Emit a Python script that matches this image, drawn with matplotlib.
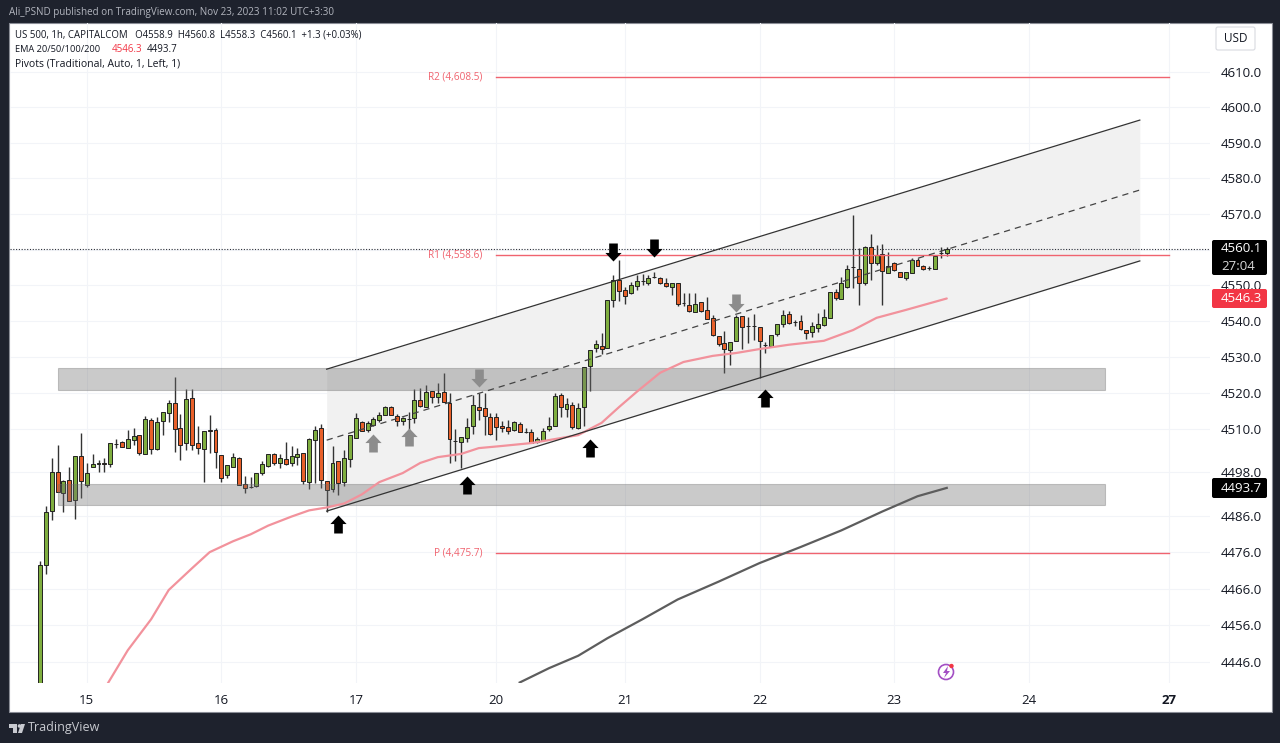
import numpy as np
import matplotlib
matplotlib.use("Agg")
import matplotlib.pyplot as plt
from matplotlib.markers import MarkerStyle
from matplotlib.patches import Circle, FancyBboxPatch, Polygon, Rectangle
from matplotlib.path import Path
from matplotlib.ticker import FixedLocator, NullLocator

plt.rcParams['font.family'] = ['Open Sans', 'DejaVu Sans']

# hourly candles, bar 0 is the first one on the left
opens = [4435, 4472.4, 4487.4, 4498.2, 4492.4, 4495.8, 4490.4, 4502.5, 4494.4, 4499.6,
         4500.4, 4500.5, 4500.3, 4505.8, 4506.3, 4504.6, 4506.9, 4508.2, 4503.2, 4512.4,
         4504.4, 4512.1, 4514.4, 4517.1, 4510.4, 4506.2, 4518.6, 4506, 4504.4, 4509.6,
         4509.6, 4502.7, 4497.4, 4499.6, 4502.1, 4494.7, 4494, 4494.2, 4497.7, 4499.7,
         4503.2, 4500.7, 4501.8, 4500.7, 4502.3, 4503.4, 4495.4, 4507, 4510.2, 4495.6,
         4493.5, 4501.1, 4495.4, 4501.6, 4507.6, 4511.8, 4509.7, 4511.1, 4512.5, 4514,
         4516.2, 4513.7, 4512.1, 4512.7, 4513, 4518.1, 4516.2, 4520.4, 4519, 4520.2,
         4517.3, 4506.8, 4506.5, 4507.6, 4510.8, 4516.2, 4515.8, 4513.4, 4513.4, 4510.7,
         4510.5, 4509.7, 4511.3, 4509.2, 4509.3, 4506.5, 4507, 4509.9, 4510.9, 4519.4,
         4515.6, 4516.7, 4510.4, 4516.2, 4527.5, 4532.4, 4533.1, 4532.4, 4546, 4551.4,
         4548.6, 4547.7, 4549.9, 4551.1, 4550.7, 4552.2, 4552.1, 4550.5, 4549.5, 4550.5,
         4545.1, 4544.5, 4542.6, 4545.3, 4543, 4540.9, 4535.8, 4534, 4531.9, 4534.5,
         4541.3, 4538.5, 4538.6, 4538.4, 4533.3, 4533, 4536.4, 4539.1, 4542.1, 4539.7,
         4540.1, 4537.5, 4536.9, 4538.2, 4538.9, 4540.8, 4548, 4546.2, 4549.6, 4555.1,
         4554.5, 4550.7, 4560.7, 4556.3, 4558.7, 4553.5, 4556.1, 4553.6, 4552, 4553.5,
         4557.1, 4555.4, 4554.8, 4554.6, 4559, 4558.9]
highs = [4473.5, 4488.8, 4502.1, 4505.6, 4495.8, 4499.5, 4502.6, 4509, 4500.6, 4503.2,
         4501.4, 4501.9, 4506.1, 4507.1, 4506.7, 4509.7, 4510.4, 4508.4, 4513.6, 4513,
         4513.3, 4514.8, 4517.9, 4524.4, 4514.1, 4521, 4521.2, 4510.9, 4509.4, 4513.9,
         4510.2, 4502.7, 4499.9, 4503.4, 4502.2, 4497, 4496.8, 4497.7, 4501.2, 4503.2,
         4503.4, 4503.2, 4506.5, 4505.3, 4504.6, 4503.4, 4507.6, 4510.8, 4511.4, 4495.7,
         4505.3, 4501.1, 4504.2, 4508.3, 4514.4, 4512.1, 4512.1, 4513.3, 4514.6, 4516.4,
         4516.4, 4514.1, 4513.4, 4514.8, 4521, 4521.5, 4522.3, 4520.4, 4522.7, 4525.5,
         4519.9, 4509.9, 4507.9, 4513, 4519.5, 4519.9, 4520.1, 4514.4, 4514.4, 4512.1,
         4512.5, 4512.1, 4511.8, 4510.4, 4509.9, 4507.9, 4510.2, 4513.3, 4519.9, 4520.1,
         4518.5, 4517.4, 4517.2, 4527.2, 4531.9, 4534.7, 4536.6, 4545.8, 4552.8, 4557.1,
         4549.5, 4550.9, 4552.8, 4553.1, 4552.8, 4553.7, 4552.3, 4551.9, 4550.5, 4550.5,
         4547.9, 4547.9, 4547.9, 4545.3, 4546.8, 4541.7, 4535.8, 4537.3, 4534.3, 4541.7,
         4541.3, 4541, 4541.9, 4538.4, 4534.2, 4536.1, 4539.1, 4543.1, 4542.8, 4540.3,
         4541.7, 4537.5, 4539.6, 4542.2, 4543.3, 4548.2, 4548.9, 4552.4, 4555.6, 4569.6,
         4560.5, 4561, 4564.3, 4561.3, 4561.5, 4559.4, 4556.5, 4553.6, 4553.7, 4557.6,
         4557.6, 4555.6, 4555.4, 4558.2, 4560.6, 4560.8]
lows = [4430, 4470, 4484.9, 4492.6, 4487, 4490.2, 4485.2, 4491, 4494, 4499.4,
        4498.2, 4498.2, 4499.5, 4504.8, 4504.9, 4504.6, 4505.6, 4502.8, 4503.1, 4503.2,
        4504.2, 4508.4, 4511.8, 4503.7, 4501.4, 4504.2, 4504.2, 4503, 4495.4, 4503.4,
        4499.1, 4495.4, 4496.5, 4499.4, 4494.4, 4492.3, 4493.7, 4494, 4497.2, 4499.5,
        4500, 4499.1, 4500, 4499.7, 4500, 4494.7, 4493.5, 4495.1, 4493.8, 4487,
        4492.6, 4491.8, 4494.2, 4499.5, 4507.4, 4509.4, 4509.3, 4510.7, 4511.8, 4513.9,
        4513.9, 4510.7, 4511.1, 4508.8, 4511.6, 4516.2, 4516.2, 4517.1, 4517.3, 4517.6,
        4500.5, 4501.2, 4499.1, 4506.5, 4508.6, 4512.5, 4508.3, 4508.3, 4507, 4509.3,
        4508.6, 4509.4, 4509.3, 4509, 4506.2, 4506.2, 4506.8, 4509.5, 4510.9, 4513.4,
        4513.4, 4509.9, 4509.9, 4510.8, 4520.4, 4531.5, 4530.7, 4532.4, 4543.8, 4545.6,
        4544.7, 4547.5, 4548.6, 4550, 4550, 4551.9, 4550.3, 4549.5, 4547.2, 4544.2,
        4544.2, 4542.6, 4542.6, 4542.6, 4540.5, 4535.8, 4533, 4525.4, 4527.8, 4534.5,
        4532.1, 4533.8, 4534.7, 4524.2, 4531, 4532.9, 4535.8, 4538.4, 4539.3, 4538.7,
        4537.4, 4535, 4535.5, 4536.9, 4538.7, 4540.8, 4545.9, 4546.2, 4549.1, 4549.1,
        4544.5, 4550.1, 4551.5, 4555.6, 4544.5, 4553.3, 4554, 4552.2, 4551.5, 4553.3,
        4555.4, 4554.4, 4554.4, 4554.6, 4557.6, 4558.3]
closes = [4472.4, 4487.1, 4498, 4492.6, 4495.6, 4490.2, 4502.5, 4495.5, 4497.8, 4500.2,
          4500.5, 4500.4, 4506, 4505.9, 4505.1, 4507.2, 4508, 4503.4, 4512.7, 4504.5,
          4512, 4514.6, 4517.2, 4510, 4505.7, 4518.4, 4505.7, 4504.6, 4509.4, 4509.5,
          4503.7, 4496.3, 4499.9, 4502.3, 4494.4, 4493.7, 4493.9, 4497.7, 4500.2, 4503.2,
          4500.7, 4502.1, 4500.3, 4502.5, 4503.2, 4495.6, 4507.3, 4509.6, 4496, 4493,
          4500.6, 4495.1, 4501.9, 4508.2, 4513, 4509.5, 4511.6, 4512.8, 4513.9, 4516.1,
          4513.9, 4512.1, 4513, 4512.7, 4518, 4516.5, 4520.3, 4519, 4519.9, 4517.6,
          4507.1, 4506.7, 4507.9, 4510.5, 4516.6, 4515.3, 4513.7, 4508.6, 4510.5, 4510.3,
          4509.5, 4511.8, 4509.3, 4509.2, 4506.2, 4507.1, 4509.5, 4510.8, 4519.2, 4516.2,
          4517, 4510.5, 4515.8, 4527.2, 4531.9, 4533.5, 4532.1, 4545.8, 4551.4, 4548.4,
          4547.1, 4550.2, 4551.3, 4551.1, 4551.9, 4552.2, 4550.5, 4549.7, 4550.5, 4544.7,
          4545.1, 4542.9, 4544.7, 4542.9, 4540.7, 4536.1, 4533.6, 4532.1, 4534.3, 4541.1,
          4538.4, 4538.5, 4538.6, 4534.5, 4533.3, 4536.1, 4539.1, 4541.8, 4539.5, 4539.7,
          4537.7, 4536.8, 4538.5, 4539.1, 4541.1, 4548.2, 4546.4, 4550.5, 4554.6, 4555.2,
          4550.5, 4560.6, 4556.1, 4558.5, 4554, 4555.4, 4554.2, 4552.3, 4553.7, 4557.2,
          4555.4, 4554.6, 4554.9, 4558.2, 4559.1, 4560.1]

ema50_bars = [11, 15, 19, 22, 26, 29, 33, 36, 39, 43, 46, 49, 52, 55, 58, 62, 65, 68, 72,
              75, 79, 84, 92, 96, 99, 102, 106, 110, 115, 119, 123, 128, 134, 139, 143, 148, 155]
ema50_vals = [4438.5, 4449.1, 4457.6, 4465.6, 4471.6, 4476, 4479, 4480.9, 4483.3, 4485.8,
              4487.5, 4488.3, 4489.4, 4491.9, 4495.3, 4497.8, 4500.6, 4502.2, 4503.1,
              4504.7, 4505.3, 4506.1, 4508.3, 4511.7, 4516.1, 4520.3, 4525.6, 4528.6,
              4530.3, 4531.1, 4532.2, 4533.4, 4534.5, 4537.5, 4540.9, 4543.1, 4546.3]
ema200_bars = [82, 87, 92, 97, 103, 109, 116, 123, 130, 137, 144, 150, 155]
ema200_vals = [4440.3, 4444.2, 4447.6, 4452.4, 4457.6, 4463, 4467.9, 4473, 4477.4, 4482,
               4487.2, 4491.4, 4493.7]

# drawn objects
channel_bars = [49, 188]
channel_upper = [4526.6, 4596.4]
channel_mid = [4506.9, 4576.7]
channel_lower = [4487.3, 4556.8]
zone_bars = [3, 182]
zone_low = [4520.8, 4489]
zone_high = [4526.9, 4494.7]
pivot_bars = [78, 193]
pivot_names = ['R2 (4,608.5)', 'R1 (4,558.6)', 'P (4,475.7)']
pivot_vals = [4608.5, 4558.6, 4475.7]
last_price = 4560.1

up_black = [(51, 4483.7), (73, 4494.5), (94, 4504.7), (124, 4518.6)]
down_black = [(98, 4559.3), (105, 4560.4)]
up_gray = [(57, 4506), (63, 4507.8)]
down_gray = [(75, 4524.1), (119, 4545)]

# 4560 sits behind the last price label, so it gets no text of its own
price_ticks = [4610, 4600, 4590, 4580, 4570, 4560, 4550, 4540, 4530, 4520, 4510,
               4498, 4486, 4476, 4466, 4456, 4446]
day_bars = [8, 31, 54, 78, 100, 123, 146, 169, 193]
day_labels = ['15', '16', '17', '20', '21', '22', '23', '24', '27']

W, H = 1280, 743
DARK = '#1e222d'
GREEN = '#7fae3f'
RED = '#e8602a'
PIVOT = '#f0636f'
TEXT = '#131722'

fig = plt.figure(figsize=(W / 100, H / 100), dpi=100, facecolor=DARK)

# backdrop and overlay work in image pixels
back = fig.add_axes([0, 0, 1, 1], zorder=0)
back.set_xlim(0, W)
back.set_ylim(H, 0)
back.axis('off')
back.add_patch(Rectangle((9, 23), 1263, 689, facecolor='white', edgecolor='#8a8d96', linewidth=0.8))

ax = fig.add_axes([10 / W, 1 - 682.5 / H, 1200 / W, 659.5 / H], facecolor='none', zorder=1)
ax.set_yscale('log')
ax.set_xlim(-5.13, 200)
ax.set_ylim(4440.3, 4623.9)
for side in ax.spines:
    ax.spines[side].set_visible(False)
ax.yaxis.set_major_locator(FixedLocator(price_ticks))
ax.yaxis.set_minor_locator(NullLocator())
ax.set_yticklabels(['' if p == 4560 else '%.1f' % p for p in price_ticks])
ax.set_xticks(day_bars)
ax.set_xticklabels(day_labels)
ax.tick_params(axis='both', length=0, labelsize=9.5, colors=TEXT)
ax.tick_params(axis='y', pad=8, labelright=True, labelleft=False)
ax.tick_params(axis='x', pad=8)
ax.get_xticklabels()[-1].set_fontweight('bold')
ax.grid(True, color='#f2f4f8', linewidth=0.8)
ax.set_axisbelow(True)

top = fig.add_axes([0, 0, 1, 1], zorder=2, facecolor='none')
top.set_xlim(0, W)
top.set_ylim(H, 0)
top.axis('off')


def put(px, py, s, **kw):
    kw.setdefault('va', 'center')
    kw.setdefault('color', TEXT)
    kw.setdefault('fontsize', 7)
    top.text(px, py, s, **kw)


def box(x0, y0, x1, y1, color, **kw):
    kw.setdefault('linewidth', 0)
    top.add_patch(FancyBboxPatch((x0, y0), x1 - x0, y1 - y0, boxstyle='round,pad=0,rounding_size=2',
                                 facecolor=color, **kw))


# channel background
ax.fill_between(channel_bars, channel_lower, channel_upper, color='#f1f1f1', zorder=1, linewidth=0)

# candles
bars = np.arange(len(opens))
o = np.array(opens)
c = np.array(closes)
up = c >= o
ax.vlines(bars, lows, highs, color='#333333', linewidth=1.0, zorder=3)
body_lo = np.minimum(o, c)
body_hi = np.maximum(o, c)
ax.bar(bars, body_hi - body_lo, bottom=body_lo, width=0.68,
       color=[GREEN if u else RED for u in up], edgecolor='#222222', linewidth=0.7, zorder=4)

# zones over the candles, the grey lets them show through
for lo, hi in zip(zone_low, zone_high):
    ax.fill_between(zone_bars, [lo, lo], [hi, hi], facecolor='#6e6e6e', alpha=0.36,
                    edgecolor='#6e6e6e', linewidth=0.8, zorder=5)

ax.plot(ema50_bars, ema50_vals, color='#f2929c', linewidth=1.6, zorder=6, solid_capstyle='round')
ax.plot(ema200_bars, ema200_vals, color='#5d5d5d', linewidth=1.6, zorder=6)

ax.plot(channel_bars, channel_upper, color='#333333', linewidth=0.9, zorder=7)
ax.plot(channel_bars, channel_lower, color='#333333', linewidth=0.9, zorder=7)
ax.plot(channel_bars, channel_mid, color='#444444', linewidth=0.9, linestyle=(0, (5, 4)), zorder=7)

for name, val in zip(pivot_names, pivot_vals):
    ax.plot(pivot_bars, [val, val], color=PIVOT, linewidth=1, zorder=5)
    ax.annotate(name, (pivot_bars[0], val), xytext=(-14, 0), textcoords='offset pixels',
                ha='right', va='center', color=PIVOT, fontsize=7.2)

ax.axhline(last_price, color='#2a2e39', linewidth=0.8, linestyle=(0, (1, 1.5)), zorder=2)

# hand drawn arrows
arrow_up = Path([(0, 1), (0.9, 0.05), (0.48, 0.05), (0.48, -1), (-0.48, -1), (-0.48, 0.05),
                 (-0.9, 0.05), (0, 1)], closed=True)
arrow_down = Path([(0, -1), (0.9, -0.05), (0.48, -0.05), (0.48, 1), (-0.48, 1), (-0.48, -0.05),
                   (-0.9, -0.05), (0, -1)], closed=True)
for pts, shape, col in [(up_black, arrow_up, '#000000'), (down_black, arrow_down, '#000000'),
                        (up_gray, arrow_up, '#8c8c8c'), (down_gray, arrow_down, '#8c8c8c')]:
    ax.scatter([p[0] for p in pts], [p[1] for p in pts], marker=MarkerStyle(shape), s=168,
               color=col, linewidths=0, zorder=8)

# header and legend
put(9, 12, 'Ali_PSND published on TradingView.com, Nov 23, 2023 11:02 UTC+3:30',
    color='#b2b5be', fontsize=7.1)
put(15, 35, 'US 500, 1h, CAPITALCOM   O4558.9  H4560.8  L4558.3  C4560.1  +1.3 (+0.03%)', fontsize=6.9)
put(15, 50, 'EMA 20/50/100/200', fontsize=6.7)
put(112, 50, '4546.3', color='#f23645', fontsize=7)
put(147, 50, '4493.7', fontsize=7)
put(15, 64, 'Pivots (Traditional, Auto, 1, Left, 1)', fontsize=7.5)

# price scale boxes
box(1216, 27, 1255, 50, 'white', edgecolor='#d8dae0', linewidth=0.8)
put(1235.5, 38.5, 'USD', ha='center', fontsize=8.5)
box(1212, 240, 1267, 275, '#000000')
put(1221, 249, '4560.1', color='white', fontsize=9.5)
put(1221, 266, '27:04', color='#d8d8d8', fontsize=9.5)
box(1212, 289, 1267, 308, '#f23645')
put(1221, 298.5, '4546.3', color='white', fontsize=9.5)
box(1212, 478, 1267, 498, '#000000')
put(1221, 488, '4493.7', color='white', fontsize=9.5)

# purple flash badge
top.add_patch(Circle((946, 672), 7.5, facecolor='white', edgecolor='#a34fc4', linewidth=1.2))
top.add_patch(Polygon([(948, 666), (943, 673), (946, 673), (944, 678), (950, 671), (947, 671)],
                      facecolor='#a34fc4', edgecolor='none'))
top.add_patch(Circle((951.5, 666), 2.2, facecolor='#f23645', edgecolor='none'))

# TradingView logo in the footer
logo = '#c8cad0'
top.add_patch(Polygon([(9, 724), (17, 724), (17, 733), (13, 733), (13, 728), (9, 728)],
                      facecolor=logo, edgecolor='none'))
top.add_patch(Circle((19.5, 726), 1.8, facecolor=logo, edgecolor='none'))
top.add_patch(Polygon([(18, 733), (21, 724), (25, 724), (22, 733)], facecolor=logo, edgecolor='none'))
put(28, 728, 'TradingView', color='#c8cad0', fontsize=9)

fig.savefig('out.png', dpi=100, facecolor=fig.get_facecolor())
